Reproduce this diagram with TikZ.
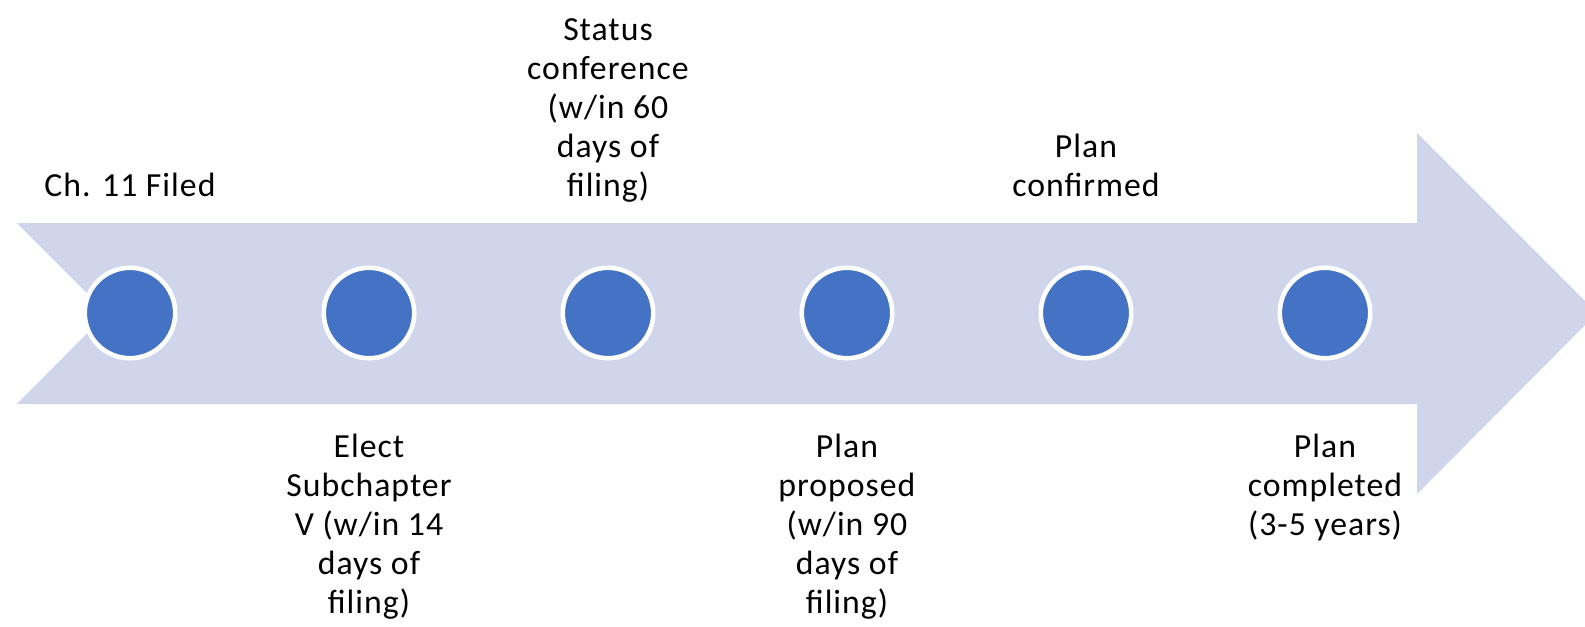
\documentclass[tikz,border=0pt]{standalone}
\usepackage{fontspec}
\setmainfont{Carlito}[LetterSpace=3]
\usepackage{xcolor}
\definecolor{bandfill}{HTML}{CFD5EA}
\definecolor{dotfill}{HTML}{4472C4}

\tikzset{
  dot/.style={circle, inner sep=0pt, minimum size=1.81cm, fill=dotfill, draw=white, line width=2.6pt},
  toplabel/.style={align=center, anchor=south, inner sep=0pt, text depth=0.2em,
    font=\fontsize{19.2}{22.2}\selectfont},
  botlabel/.style={align=center, anchor=north, inner sep=0pt,
    font=\fontsize{19.2}{22.2}\selectfont}
}

\begin{document}
\begin{tikzpicture}[x=0.02cm,y=-0.02cm]
\useasboundingbox (0,0) rectangle (1585,626);

% the band arrow behind the milestones
\fill[bandfill] (17,223) -- (1417,223) -- (1417,133) -- (1597,313) -- (1417,494)
  -- (1417,404) -- (17,404) -- (107,313) -- cycle;

% milestones
\node[dot] (c1) at (130,313) {};
\node[dot] (c2) at (369,313) {};
\node[dot] (c3) at (608,313) {};
\node[dot] (c4) at (847,313) {};
\node[dot] (c5) at (1086,313) {};
\node[dot] (c6) at (1325,313) {};

% labels above
\node[toplabel] (t1) at (130,200) {Ch. 11 Filed};
\node[toplabel] (t3) at (608,200) {Status\\conference\\(w/in 60\\days of\\filing)};
\node[toplabel] (t5) at (1086,200) {Plan\\confirmed};

% labels below
\node[botlabel] (b2) at (369,434) {Elect\\Subchapter\\V (w/in 14\\days of\\filing)};
\node[botlabel] (b4) at (847,434) {Plan\\proposed\\(w/in 90\\days of\\filing)};
\node[botlabel] (b6) at (1325,434) {Plan\\completed\\(3-5 years)};
\end{tikzpicture}
\end{document}
